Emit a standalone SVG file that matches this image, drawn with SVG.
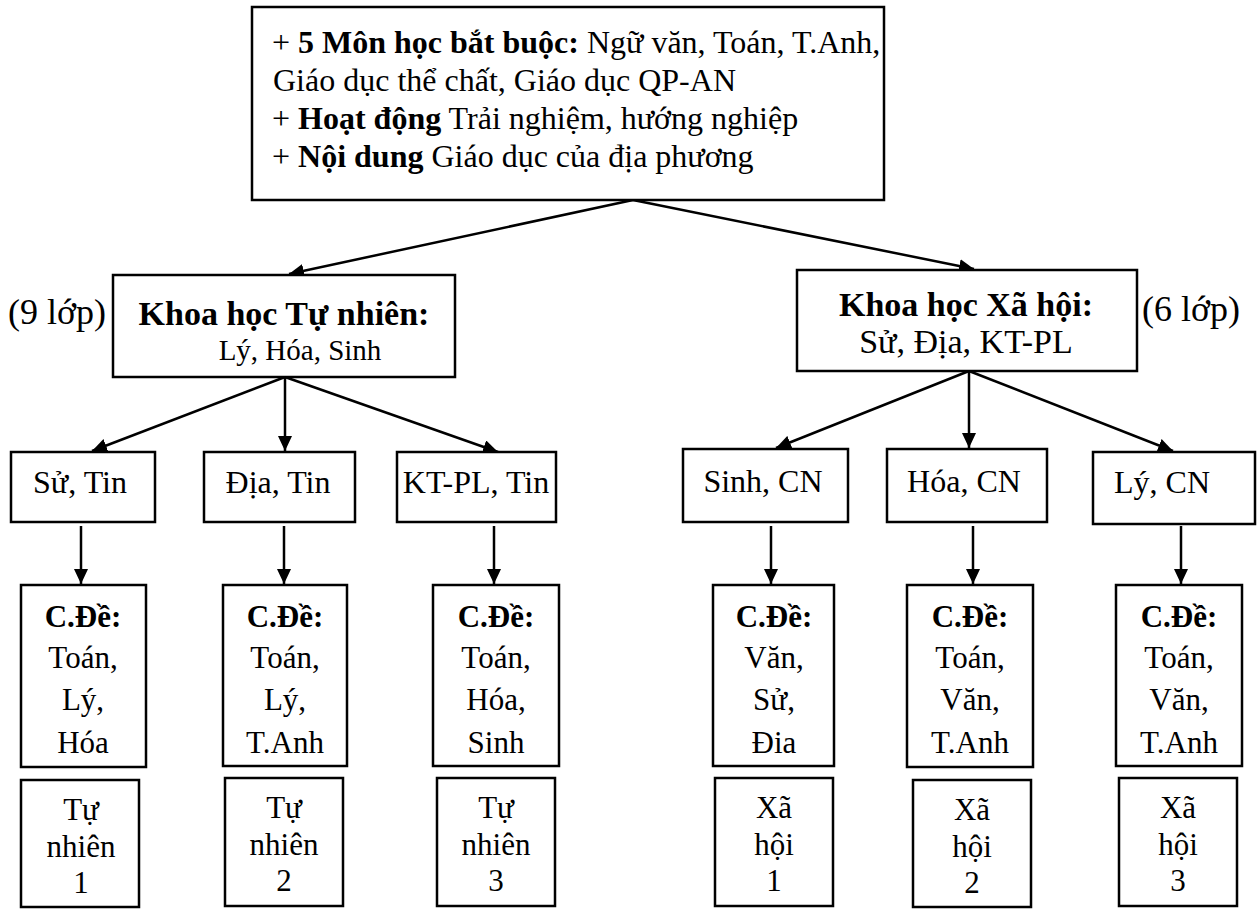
<svg xmlns="http://www.w3.org/2000/svg" width="1258" height="909" viewBox="0 0 1258 909">
  <defs>
    <marker id="arrow" markerUnits="userSpaceOnUse" markerWidth="16" markerHeight="14" refX="15" refY="7" orient="auto">
      <path d="M0,0 L15,7 L0,14 z" fill="#000"/>
    </marker>
    <style>
      .box{fill:#fff;stroke:#000;stroke-width:2.5}
      .t{font-family:"Liberation Serif","Times New Roman",serif;fill:#000}
      .b{font-weight:bold}
      .c{text-anchor:middle}
      .edge{stroke:#000;stroke-width:2.5;fill:none;marker-end:url(#arrow)}
      .f31{font-size:31px}
      .f32{font-size:32px}
    </style>
  </defs>
  <rect width="1258" height="909" fill="#fff"/>

  <!-- connectors -->
  <g id="connectors">
    <path class="edge" d="M633,200 L289,274"/>
    <path class="edge" d="M633,200 L974,269"/>
    <path class="edge" d="M285,377 L92,451"/>
    <path class="edge" d="M285,377 L285,451"/>
    <path class="edge" d="M285,377 L498,452"/>
    <path class="edge" d="M969,371 L776,448"/>
    <path class="edge" d="M969,371 L969,448"/>
    <path class="edge" d="M969,371 L1173,451"/>
    <path class="edge" d="M81,526 L81,584"/>
    <path class="edge" d="M284,526 L284,584"/>
    <path class="edge" d="M494,526 L494,584"/>
    <path class="edge" d="M771,526 L771,584"/>
    <path class="edge" d="M973,526 L973,584"/>
    <path class="edge" d="M1181,526 L1181,584"/>
  </g>

  <!-- compulsory subjects -->
  <g id="core">
    <rect class="box" x="252" y="7" width="632" height="193"/>
    <g class="t" font-size="32">
      <text x="272" y="53">+ <tspan class="b">5 Môn học bắt buộc:</tspan> Ngữ văn, Toán, T.Anh,</text>
      <text x="273" y="91">Giáo dục thể chất, Giáo dục QP-AN</text>
      <text x="272" y="129">+ <tspan class="b">Hoạt động</tspan> Trải nghiệm, hướng nghiệp</text>
      <text x="272" y="167">+ <tspan class="b">Nội dung</tspan> Giáo dục của địa phương</text>
    </g>
  </g>

  <!-- natural sciences branch -->
  <g id="khtn">
    <rect class="box" x="113" y="275" width="342" height="102"/>
    <text class="t b c" x="284" y="325" font-size="34">Khoa học Tự nhiên:</text>
    <text class="t c" x="300" y="360" font-size="29">Lý, Hóa, Sinh</text>
    <text class="t" x="8" y="324" font-size="36">(9 lớp)</text>
  </g>

  <!-- social sciences branch -->
  <g id="khxh">
    <rect class="box" x="797" y="270" width="340" height="101"/>
    <text class="t b c" x="966" y="316" font-size="34">Khoa học Xã hội:</text>
    <text class="t c" x="966" y="353" font-size="34">Sử, Địa, KT-PL</text>
    <text class="t" x="1142" y="321" font-size="36">(6 lớp)</text>
  </g>

  <!-- elective pairs -->
  <g id="su-tin">
    <rect class="box" x="11" y="452" width="144" height="70"/>
    <text class="t c f32" x="80" y="493">Sử, Tin</text>
  </g>
  <g id="dia-tin">
    <rect class="box" x="204" y="452" width="151" height="70"/>
    <text class="t c f32" x="278" y="493">Địa, Tin</text>
  </g>
  <g id="ktpl-tin">
    <rect class="box" x="397" y="452" width="159" height="70"/>
    <text class="t c f32" x="476" y="493">KT-PL, Tin</text>
  </g>
  <g id="sinh-cn">
    <rect class="box" x="683" y="449" width="165" height="73"/>
    <text class="t c f32" x="763" y="492">Sinh, CN</text>
  </g>
  <g id="hoa-cn">
    <rect class="box" x="887" y="449" width="160" height="73"/>
    <text class="t c f32" x="964" y="492">Hóa, CN</text>
  </g>
  <g id="ly-cn">
    <rect class="box" x="1093" y="452" width="162" height="72"/>
    <text class="t c f32" x="1162" y="493">Lý, CN</text>
  </g>

  <!-- specialised topics -->
  <g id="cd-tn1">
    <rect class="box" x="21" y="585" width="125" height="182"/>
    <g class="t c f31">
      <text class="b" x="83" y="627">C.Đề:</text>
      <text x="83" y="668">Toán,</text>
      <text x="83" y="710">Lý,</text>
      <text x="83" y="753">Hóa</text>
    </g>
  </g>
  <g id="cd-tn2">
    <rect class="box" x="223" y="585" width="124" height="181"/>
    <g class="t c f31">
      <text class="b" x="285" y="627">C.Đề:</text>
      <text x="285" y="668">Toán,</text>
      <text x="285" y="710">Lý,</text>
      <text x="285" y="753">T.Anh</text>
    </g>
  </g>
  <g id="cd-tn3">
    <rect class="box" x="433" y="585" width="126" height="181"/>
    <g class="t c f31">
      <text class="b" x="496" y="627">C.Đề:</text>
      <text x="496" y="668">Toán,</text>
      <text x="496" y="710">Hóa,</text>
      <text x="496" y="753">Sinh</text>
    </g>
  </g>
  <g id="cd-xh1">
    <rect class="box" x="713" y="585" width="121" height="181"/>
    <g class="t c f31">
      <text class="b" x="774" y="627">C.Đề:</text>
      <text x="774" y="668">Văn,</text>
      <text x="774" y="710">Sử,</text>
      <text x="774" y="753">Đia</text>
    </g>
  </g>
  <g id="cd-xh2">
    <rect class="box" x="907" y="585" width="126" height="182"/>
    <g class="t c f31">
      <text class="b" x="970" y="627">C.Đề:</text>
      <text x="970" y="668">Toán,</text>
      <text x="970" y="710">Văn,</text>
      <text x="970" y="753">T.Anh</text>
    </g>
  </g>
  <g id="cd-xh3">
    <rect class="box" x="1116" y="585" width="126" height="181"/>
    <g class="t c f31">
      <text class="b" x="1179" y="627">C.Đề:</text>
      <text x="1179" y="668">Toán,</text>
      <text x="1179" y="710">Văn,</text>
      <text x="1179" y="753">T.Anh</text>
    </g>
  </g>

  <!-- class groups -->
  <g id="tn1">
    <rect class="box" x="21" y="780" width="118" height="127"/>
    <g class="t c f31">
      <text x="81" y="820">Tự</text>
      <text x="81" y="857">nhiên</text>
      <text x="81" y="893">1</text>
    </g>
  </g>
  <g id="tn2">
    <rect class="box" x="225" y="778" width="118" height="128"/>
    <g class="t c f31">
      <text x="284" y="818">Tự</text>
      <text x="284" y="855">nhiên</text>
      <text x="284" y="891">2</text>
    </g>
  </g>
  <g id="tn3">
    <rect class="box" x="437" y="778" width="118" height="128"/>
    <g class="t c f31">
      <text x="496" y="818">Tự</text>
      <text x="496" y="855">nhiên</text>
      <text x="496" y="891">3</text>
    </g>
  </g>
  <g id="xh1">
    <rect class="box" x="715" y="778" width="118" height="128"/>
    <g class="t c f31">
      <text x="774" y="818">Xã</text>
      <text x="774" y="855">hội</text>
      <text x="774" y="891">1</text>
    </g>
  </g>
  <g id="xh2">
    <rect class="box" x="913" y="780" width="118" height="127"/>
    <g class="t c f31">
      <text x="972" y="820">Xã</text>
      <text x="972" y="857">hội</text>
      <text x="972" y="893">2</text>
    </g>
  </g>
  <g id="xh3">
    <rect class="box" x="1119" y="778" width="118" height="128"/>
    <g class="t c f31">
      <text x="1178" y="818">Xã</text>
      <text x="1178" y="855">hội</text>
      <text x="1178" y="891">3</text>
    </g>
  </g>
</svg>
